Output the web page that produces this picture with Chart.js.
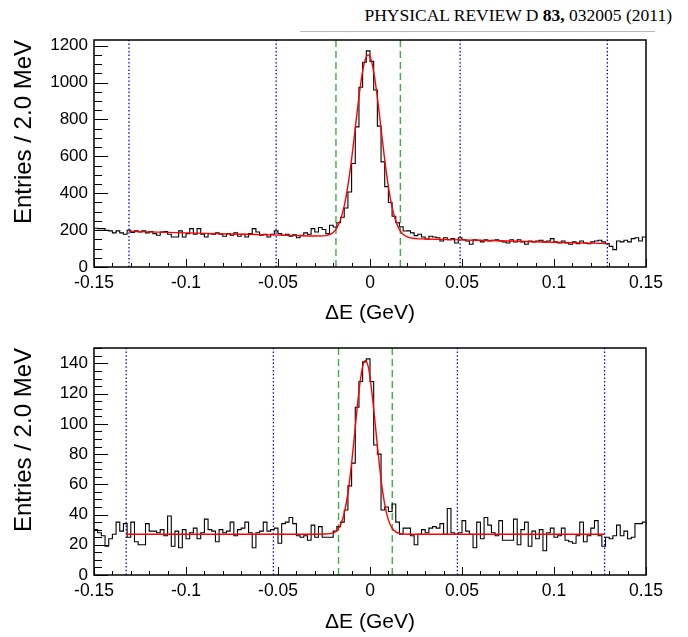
<!DOCTYPE html>
<html><head><meta charset="utf-8">
<script src="https://cdn.jsdelivr.net/npm/chart.js@4.4.1/dist/chart.umd.min.js"></script>
<style>
html,body{margin:0;padding:0;background:#fff;width:688px;height:637px;overflow:hidden;}
#hdr{position:absolute;left:0;top:5px;width:672px;text-align:right;font-family:"Liberation Serif","Times New Roman",serif;font-size:17.5px;line-height:20px;color:#000;white-space:nowrap;}
#rule{position:absolute;top:31px;left:300px;width:355px;height:1px;background:#b8b8b8;}
.wrap{position:absolute;left:0;width:688px;}
canvas{display:block;}
</style></head><body>
<div id="hdr">PHYSICAL REVIEW D <b>83,</b> 032005 (2011)</div>
<div id="rule"></div>
<div class="wrap" style="top:0;height:330px"><canvas id="c1" width="688" height="330"></canvas></div>
<div class="wrap" style="top:330px;height:307px"><canvas id="c2" width="688" height="307"></canvas></div>
<script>
// ---------------- data ----------------
const binLow = -0.15;
const binWidth = 0.002;

const topCounts = [
210,208,208,199,196,185,196,185,178,199,
188,196,190,196,185,192,181,172,190,192,
178,163,163,196,163,181,208,178,208,178,
163,181,178,185,178,167,181,172,185,167,
178,163,181,208,190,172,178,163,178,196,
181,172,178,167,174,159,172,185,178,208,
190,214,203,181,226,217,240,270,320,407,
561,760,975,1110,1172,1115,960,764,570,436,
350,275,240,218,195,196,185,170,178,163,
152,167,163,159,141,159,148,154,130,159,
148,141,123,148,145,136,148,141,145,148,
141,136,130,148,136,148,136,123,141,136,
141,145,136,141,154,136,130,141,130,123,
136,127,141,130,127,136,141,145,136,127,
112,94,141,136,145,136,154,159,141,163];

const botCounts = [
30,28,26,19,24,27,35,29,34,25,
35,22,20,20,34,29,29,28,30,26,
39,19,29,18,30,24,28,31,24,28,
37,30,29,22,30,28,29,35,26,30,
31,35,28,18,28,29,35,29,30,31,
21,34,35,38,34,26,25,26,23,33,
25,32,25,25,25,29,32,35,43,59,
74,111,128,141,143,128,86,80,43,45,
42,47,35,27,31,31,26,20,27,30,
28,31,32,31,34,27,44,28,27,28,
36,29,27,18,35,24,38,33,28,26,
36,23,23,23,37,20,30,35,19,29,
24,30,16,28,31,25,26,31,23,22,
21,26,35,22,26,31,36,26,19,25,
24,26,33,26,29,24,25,34,34,35];

const topFitX = [-0.131,-0.1,-0.07,-0.05,-0.04,-0.03,-0.024,-0.022,-0.02,-0.018,-0.016,-0.014,-0.012,-0.01,-0.008,-0.006,-0.004,-0.002,-0.001,0,0.002,0.004,0.006,0.008,0.01,0.012,0.014,0.016,0.018,0.02,0.022,0.025,0.03,0.05,0.07,0.1,0.129];
const topFitY = [193,185,178,173,170,168,170,176,187,212,257,331,441,585,754,923,1062,1140,1150,1140,1060,920,750,581,435,325,249,203,177,165,158,154,152,147,142,134,127];

const botFitX = [-0.1325,-0.06,-0.03,-0.024,-0.02,-0.018,-0.016,-0.014,-0.012,-0.01,-0.008,-0.006,-0.004,-0.0025,-0.001,0,0.002,0.004,0.006,0.008,0.01,0.012,0.014,0.016,0.02,0.06,0.1275];
const botFitY = [27,27,27,27.1,27.9,29.5,33.3,40.9,54.2,73.9,98,121.6,138,142,138,131,110,85.6,63.3,46.8,36.5,31,28.5,27.5,27,27,27];

const xTickVals = [-0.15,-0.1,-0.05,0,0.05,0.1,0.15];
const xTickLabels = ['-0.15','-0.1','-0.05','0','0.05','0.1','0.15'];
const topYTicks = [0,200,400,600,800,1000,1200];
const topYLabels = ['0','200','400','600','800','1000','1200'];
const botYTicks = [0,20,40,60,80,100,120,140];
const botYLabels = ['0','20','40','60','80','100','120','140'];
const topYMax = 1231;
const botYMax = 150.2;

const topSideband = [-0.131,-0.051,0.049,0.129];
const topSignal = [-0.0185,0.0165];
const botSideband = [-0.1325,-0.0525,0.0475,0.1275];
const botSignal = [-0.0171,0.0121];

const xTitle = 'ΔE (GeV)';
const yTitle = 'Entries / 2.0 MeV';

// ---------------- drawing ----------------
const FONT = '"Liberation Sans", Arial, Helvetica, sans-serif';

function histPoints(counts){
  const pts = counts.map((c,i)=>({x: binLow + i*binWidth, y: c}));
  pts.push({x: binLow + counts.length*binWidth, y: counts[counts.length-1]});
  return pts;
}
function curvePoints(xs, ys){ return xs.map((x,i)=>({x:x, y:ys[i]})); }
function vline(v, ymax){ return [{x:v,y:0},{x:v,y:ymax}]; }

const insideTicks = {
  id: 'insideTicks',
  afterDatasetsDraw(chart, args, o) {
    const {ctx, chartArea: a, scales: {x, y}} = chart;
    ctx.save();
    ctx.strokeStyle = '#000';
    ctx.lineWidth = 1;
    ctx.beginPath();
    const xm = o.xMajor;
    for (let i = 0; i < xm.length; i++) {
      const px = Math.round(x.getPixelForValue(xm[i])) + 0.5;
      ctx.moveTo(px, a.bottom); ctx.lineTo(px, a.bottom - o.xMajLen);
      if (i < xm.length - 1) {
        for (let k = 1; k < o.xSub; k++) {
          const v = xm[i] + (xm[i+1] - xm[i]) * k / o.xSub;
          const p = Math.round(x.getPixelForValue(v)) + 0.5;
          ctx.moveTo(p, a.bottom); ctx.lineTo(p, a.bottom - o.xMinLen);
        }
      }
    }
    const ym = o.yMajor;
    const step = ym[1] - ym[0];
    for (let i = 0; i < ym.length; i++) {
      const py = Math.round(y.getPixelForValue(ym[i])) + 0.5;
      ctx.moveTo(a.left, py); ctx.lineTo(a.left + o.yMajLen, py);
      for (let k = 1; k < o.ySub; k++) {
        const v = ym[i] + step * k / o.ySub;
        if (v > y.max) break;
        const p = Math.round(y.getPixelForValue(v)) + 0.5;
        ctx.moveTo(a.left, p); ctx.lineTo(a.left + o.yMinLen, p);
      }
    }
    ctx.stroke();
    ctx.lineWidth = 1.5;
    ctx.strokeRect(a.left, a.top, a.right - a.left, a.bottom - a.top);
    ctx.restore();
  }
};

function makeChart(id, cfg) {
  const datasets = [
    {data: curvePoints(cfg.fitX, cfg.fitY), borderColor:'#ff0000', borderWidth:1.4, pointRadius:0, cubicInterpolationMode:'monotone', fill:false},
    {data: histPoints(cfg.counts), borderColor:'#000000', borderWidth:1.1, pointRadius:0, stepped:'before', fill:false}
  ];
  cfg.signal.forEach(v => datasets.push({data: vline(v, cfg.yMax), borderColor:'#3cb043', borderWidth:1.4, borderDash:[7,4], pointRadius:0, fill:false}));
  cfg.side.forEach(v => datasets.push({data: vline(v, cfg.yMax), borderColor:'#0000ff', borderWidth:1.3, borderDash:[1.5,2.2], pointRadius:0, fill:false}));

  return new Chart(document.getElementById(id), {
    type: 'line',
    data: {datasets},
    plugins: [insideTicks],
    options: {
      responsive: false,
      animation: false,
      events: [],
      layout: {padding: {top: cfg.padTop, right: 42, bottom: 0, left: 0}},
      plugins: {
        legend: {display:false},
        tooltip: {enabled:false},
        insideTicks: {xMajor: xTickVals, xSub: 5, xMajLen: 8, xMinLen: 4, yMajor: cfg.yTicks, ySub: 4, yMajLen: 14, yMinLen: 8}
      },
      scales: {
        x: {
          type: 'linear', min: -0.15, max: 0.15,
          afterBuildTicks: s => { s.ticks = xTickVals.map(v => ({value: v})); },
          afterFit: s => { s.height = cfg.xAxisH; },
          grid: {display:false, drawTicks:false},
          border: {display:false},
          ticks: {callback: (v, i) => xTickLabels[i], color:'#000', font:{family:FONT, size:17.5}, padding:6, maxRotation:0, autoSkip:false},
          title: {display:true, text:xTitle, align:'center', color:'#000', font:{family:FONT, size:21}, padding:{top:0, bottom:cfg.xTitlePad}}
        },
        y: {
          type: 'linear', min: 0, max: cfg.yMax,
          afterBuildTicks: s => { s.ticks = cfg.yTicks.map(v => ({value: v})); },
          afterFit: s => { s.width = 94; },
          grid: {display:false, drawTicks:false},
          border: {display:false},
          ticks: {callback: (v, i) => cfg.yLabels[i], color:'#000', font:{family:FONT, size:17}, padding:6, autoSkip:false},
          title: {display:true, text:yTitle, align:'end', color:'#000', font:{family:FONT, size:24}, padding:{top:10, bottom:0}}
        }
      }
    }
  });
}

makeChart('c1', {counts: topCounts, fitX: topFitX, fitY: topFitY, yMax: topYMax, yTicks: topYTicks, yLabels: topYLabels,
  signal: topSignal, side: topSideband, padTop: 40, xAxisH: 63, xTitlePad: 4});
makeChart('c2', {counts: botCounts, fitX: botFitX, fitY: botFitY, yMax: botYMax, yTicks: botYTicks, yLabels: botYLabels,
  signal: botSignal, side: botSideband, padTop: 18, xAxisH: 62, xTitlePad: 2});
</script>
</body></html>
